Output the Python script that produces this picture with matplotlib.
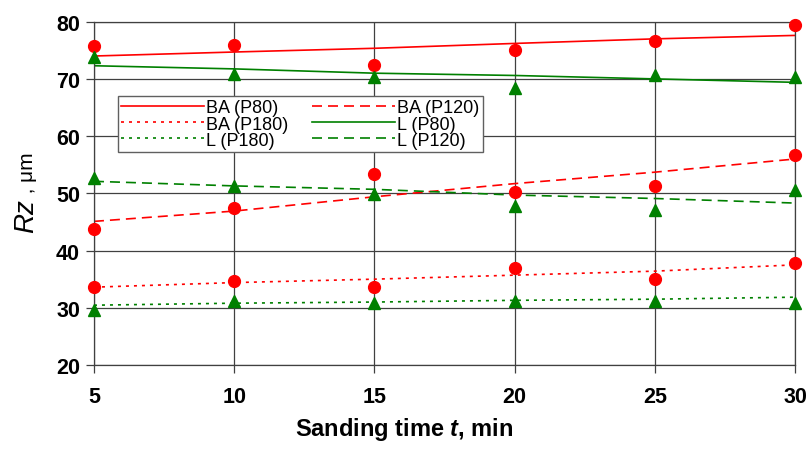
import matplotlib.pyplot as plt

plt.rcParams['font.family'] = ['Liberation Sans', 'DejaVu Sans']
plt.rcParams['mathtext.fontset'] = 'custom'
plt.rcParams['mathtext.it'] = 'Liberation Sans:italic:bold'
plt.rcParams['mathtext.rm'] = 'Liberation Sans:bold'

time = [5, 10, 15, 20, 25, 30]

# measured roughness (markers)
ba_p80 = [75.7, 76.0, 72.5, 75.1, 76.7, 79.5]
ba_p120 = [43.8, 47.4, 53.4, 50.2, 51.2, 56.7]
ba_p180 = [33.7, 34.7, 33.7, 37.0, 35.0, 37.8]
l_p80 = [73.8, 70.8, 70.3, 68.4, 70.7, 70.3]
l_p120 = [52.6, 51.2, 49.8, 47.7, 47.1, 50.5]
l_p180 = [29.6, 31.2, 30.9, 31.2, 31.2, 30.9]

# trend lines
ba_p80_fit = [74.0, 74.7, 75.35, 76.2, 77.0, 77.6]
ba_p120_fit = [45.1, 46.9, 49.4, 51.7, 53.7, 56.0]
ba_p180_fit = [33.6, 34.4, 35.0, 35.7, 36.4, 37.5]
l_p80_fit = [72.3, 71.75, 71.0, 70.6, 70.0, 69.4]
l_p120_fit = [52.1, 51.3, 50.7, 49.7, 49.1, 48.3]
l_p180_fit = [30.45, 30.8, 31.0, 31.3, 31.5, 31.85]

red = '#ff0000'
green = '#008000'
grid_col = '#404040'
dash = (6, 3.6)
dot = (1.8, 3)

fig = plt.figure(figsize=(8.08, 4.52), dpi=100)
ax = fig.add_axes([0.1163, 0.1903, 0.8676, 0.7595])

h_ba80, = ax.plot(time, ba_p80_fit, color=red, lw=1.2, label='BA (P80)')
h_ba120, = ax.plot(time, ba_p120_fit, color=red, lw=1.2, dashes=dash, label='BA (P120)')
h_ba180, = ax.plot(time, ba_p180_fit, color=red, lw=1.2, dashes=dot, label='BA (P180)')
h_l80, = ax.plot(time, l_p80_fit, color=green, lw=1.2, label='L (P80)')
h_l120, = ax.plot(time, l_p120_fit, color=green, lw=1.2, dashes=dash, label='L (P120)')
h_l180, = ax.plot(time, l_p180_fit, color=green, lw=1.2, dashes=dot, label='L (P180)')

for ys in [ba_p80, ba_p120, ba_p180]:
    ax.plot(time, ys, 'o', color=red, ms=8.5, mec=red, clip_on=False, zorder=5)
for ys in [l_p80, l_p120, l_p180]:
    ax.plot(time, ys, '^', color=green, ms=9, mec=green, clip_on=False, zorder=5)

ax.set_xlim(5, 30)
ax.set_ylim(20, 80)
ax.set_xticks(time)
ax.set_yticks([20, 30, 40, 50, 60, 70, 80])
ax.grid(True, color=grid_col, lw=0.9)
ax.set_axisbelow(True)
for s in ax.spines.values():
    s.set_color(grid_col)
    s.set_linewidth(0.9)
ax.tick_params(direction='out', length=6, color=grid_col, width=0.9, labelsize=15.5, pad=4)
for lbl in ax.get_xticklabels() + ax.get_yticklabels():
    lbl.set_fontweight('bold')
ax.tick_params(axis='x', pad=9)

leg = ax.legend([h_ba80, h_ba180, h_l180, h_ba120, h_l80, h_l120],
                ['BA (P80)', 'BA (P180)', 'L (P180)', 'BA (P120)', 'L (P80)', 'L (P120)'],
                ncol=2, loc='upper left', bbox_to_anchor=(0.034, 0.784),
                fontsize=13, labelspacing=-0.05, handlelength=4.6, handletextpad=0.1,
                columnspacing=1.3, borderpad=0.2, borderaxespad=0, fancybox=False,
                framealpha=1, edgecolor='#606060')
leg.get_frame().set_linewidth(1.0)

fig.text(0.5, 0.02, r'Sanding time $t$, min', fontsize=17, fontweight='bold',
         ha='center', va='bottom')
fig.text(33 / 808, 1 - 233 / 452, 'Rz', fontsize=20, style='italic', rotation=90,
         rotation_mode='anchor', ha='left', va='baseline')
fig.text(33 / 808, 1 - 199 / 452, ' , μm', fontsize=15, rotation=90,
         rotation_mode='anchor', ha='left', va='baseline')

fig.savefig('out.png', dpi=100)
